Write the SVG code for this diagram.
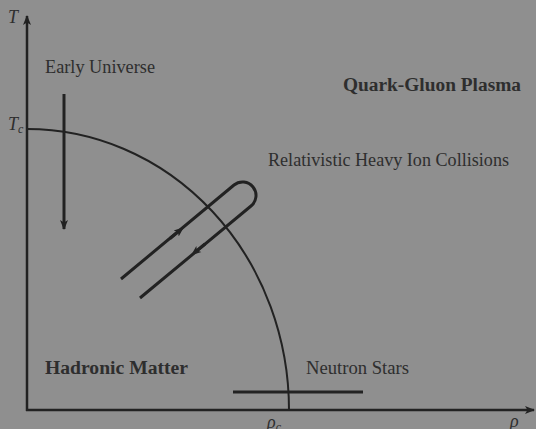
<svg xmlns="http://www.w3.org/2000/svg" width="536" height="429" viewBox="0 0 536 429">
<style>
.t{font-family:"Liberation Serif","DejaVu Serif",serif;font-size:18px;fill:#2e2e2e}
.b{font-weight:bold}
.i{font-style:italic}
.ln{fill:none;stroke:#222;stroke-linecap:butt}
</style>
<defs>
<marker id="ah" viewBox="0 0 10 10" refX="9" refY="5" markerWidth="10" markerHeight="10" markerUnits="userSpaceOnUse" orient="auto">
<path d="M0,1 L10,5 L0,9 L2.5,5 Z" fill="#222"/>
</marker>
<marker id="ah2" viewBox="0 0 10 10" refX="5" refY="5" markerWidth="10" markerHeight="10" markerUnits="userSpaceOnUse" orient="auto">
<path d="M0,1 L10,5 L0,9 L2.5,5 Z" fill="#222"/>
</marker>
</defs>
<rect width="536" height="429" fill="#8f8f8f"/>
<g id="connectors">
<path class="ln" d="M27,411 V16" stroke-width="2.5" marker-end="url(#ah)"/>
<path class="ln" d="M26,410 H534" stroke-width="2.5" marker-end="url(#ah)"/>
<path id="boundary" class="ln" d="M27,129 A262,281 0 0 1 289,410" stroke-width="2"/>
<path id="early-arrow" class="ln" d="M64,94 V229" stroke-width="3" marker-end="url(#ah)"/>
<path id="rhic-loop" class="ln" d="M121,279 L234,185 A13.5,13.5 0 0 1 251,206 L140,298" stroke-width="3"/>
<path class="ln" d="M170,238.5 L180,230.3" stroke-width="3" marker-end="url(#ah2)"/>
<path class="ln" d="M205,244 L195,252.2" stroke-width="3" marker-end="url(#ah2)"/>
<path id="neutron-line" class="ln" d="M233,392 H363" stroke-width="3"/>
</g>
<g id="axis-labels">
<text class="t i" x="8" y="23">T</text>
<text class="t i" x="8" y="130">T<tspan font-size="12" dy="3">c</tspan></text>
<text class="t i" x="267" y="428">ρ<tspan font-size="12" dy="3">c</tspan></text>
<text class="t i" x="510" y="427">ρ</text>
</g>
<g id="early-universe"><text class="t" x="45" y="73" textLength="110" lengthAdjust="spacingAndGlyphs">Early Universe</text></g>
<g id="qgp"><text class="t b" x="343" y="91" textLength="178" lengthAdjust="spacingAndGlyphs">Quark-Gluon Plasma</text></g>
<g id="rhic"><text class="t" x="268" y="166" textLength="241" lengthAdjust="spacingAndGlyphs">Relativistic Heavy Ion Collisions</text></g>
<g id="hadronic"><text class="t b" x="45" y="374" textLength="143" lengthAdjust="spacingAndGlyphs">Hadronic Matter</text></g>
<g id="neutron-stars"><text class="t" x="306" y="374" textLength="103" lengthAdjust="spacingAndGlyphs">Neutron Stars</text></g>
</svg>
